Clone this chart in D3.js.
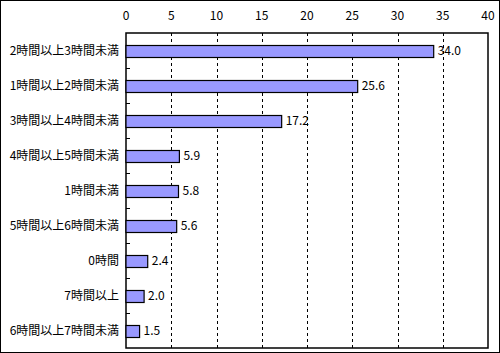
<!DOCTYPE html>
<html><head><meta charset="utf-8">
<script src="https://cdn.jsdelivr.net/npm/d3@7"></script>
<style>body{margin:0;background:#fff}svg{display:block}</style>
</head><body>
<script>
const categories = ["2時間以上3時間未満","1時間以上2時間未満","3時間以上4時間未満","4時間以上5時間未満","1時間未満","5時間以上6時間未満","0時間","7時間以上","6時間以上7時間未満"];
const values = [34.0,25.6,17.2,5.9,5.8,5.6,2.4,2.0,1.5];
const tickValues = [0,5,10,15,20,25,30,35,40];

const W=500,H=353;
const svg=d3.select("body").append("svg").attr("width",W).attr("height",H);
const font='"Noto Sans CJK JP","Noto Sans",sans-serif';
svg.append("rect").attr("x",0.5).attr("y",0.5).attr("width",W-1).attr("height",H-1).attr("fill","#fff").attr("stroke","#000");

const L=126,R=488,T=33,B=348;
const x=d3.scaleLinear().domain([0,40]).range([L,R]);
const y=d3.scaleBand().domain(categories).range([T,B]);

// gridlines
svg.append("g").selectAll("line").data(tickValues.filter(v=>v>0&&v<40)).join("line")
 .attr("x1",d=>Math.round(x(d))+0.5).attr("x2",d=>Math.round(x(d))+0.5)
 .attr("y1",T).attr("y2",B).attr("stroke","#000").attr("stroke-dasharray","3,3");

// frame
svg.append("rect").attr("x",L).attr("y",T).attr("width",R-L).attr("height",B-T)
 .attr("fill","none").attr("stroke","#000").attr("stroke-width",1.5);

// top tick labels
svg.append("g").selectAll("text").data(tickValues).join("text")
 .attr("x",d=>x(d)).attr("y",20).attr("text-anchor","middle")
 .attr("font-family",font).attr("font-size",12).text(d=>d);

// category ticks
svg.append("g").selectAll("line").data(categories.slice(1)).join("line")
 .attr("x1",L).attr("x2",L+4).attr("y1",d=>Math.round(y(d))+0.5).attr("y2",d=>Math.round(y(d))+0.5)
 .attr("stroke","#000");

const bh=12;
svg.append("g").selectAll("rect").data(values).join("rect")
 .attr("x",L).attr("y",(d,i)=>Math.round(y(categories[i])+y.bandwidth()/2-bh/2)+0.5)
 .attr("width",d=>x(d)-L).attr("height",bh)
 .attr("fill","#9999ff").attr("stroke","#000").attr("stroke-width",1.2);

svg.append("g").selectAll("text").data(values).join("text")
 .attr("x",d=>x(d)+4).attr("y",(d,i)=>y(categories[i])+y.bandwidth()/2+4)
 .attr("font-family",font).attr("font-size",12).text(d=>d.toFixed(1));

svg.append("g").selectAll("text").data(categories).join("text")
 .attr("x",119).attr("y",d=>y(d)+y.bandwidth()/2+4.5).attr("text-anchor","end")
 .attr("font-family",font).attr("font-size",12).text(d=>d);
</script>
</body></html>
